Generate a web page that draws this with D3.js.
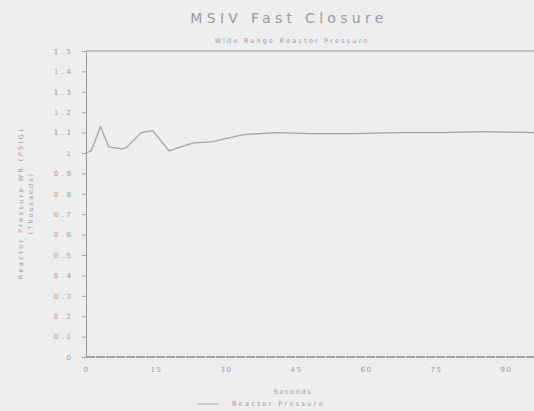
<!DOCTYPE html>
<html>
<head>
<meta charset="utf-8">
<script src="https://cdn.jsdelivr.net/npm/d3@7"></script>
<style>
  body { margin: 0; background: #eeeeee; }
  text { font-family: "DejaVu Sans", sans-serif; fill: #9a9a9a; }
</style>
</head>
<body>
<script>
// seconds / reactor pressure (thousands psig)
const seconds = [0, 1.1, 3.1, 4.9, 7.5, 8.6, 11.8, 14.3, 17.8, 23, 26.8, 33.8, 41, 48, 57, 67, 76, 85, 96]
const pressure = [1.0, 1.01, 1.13, 1.03, 1.02, 1.025, 1.10, 1.11, 1.01, 1.05, 1.055, 1.09, 1.10, 1.095, 1.095, 1.10, 1.10, 1.105, 1.10]
const x_ticks = [0, 15, 30, 45, 60, 75, 90]
const y_ticks = [0, 0.1, 0.2, 0.3, 0.4, 0.5, 0.6, 0.7, 0.8, 0.9, 1, 1.1, 1.2, 1.3, 1.4, 1.5]

const width = 534, height = 411

const svg = d3.select("body")
              .append("svg")
              .attr("width", width)
              .attr("height", height)

svg.append("rect")
   .attr("width", width)
   .attr("height", height)
   .attr("fill", "#eeeeee")

const x = d3.scaleLinear().domain([0, 90]).range([86, 506])
const y = d3.scaleLinear().domain([0, 1.5]).range([357, 51])

// top border
svg.append("line")
   .attr("x1", x(0)).attr("x2", width)
   .attr("y1", y(1.5)).attr("y2", y(1.5))
   .attr("stroke", "#9a9a9a")
   .attr("stroke-width", 1)

const yAxis = svg.append("g")
   .attr("transform", `translate(${x(0)},0)`)
   .call(d3.axisLeft(y).tickValues(y_ticks).tickSize(4).tickPadding(8)
           .tickFormat(d => d === 0 ? "0" : d3.format("")(+d.toFixed(1))))
yAxis.select(".domain").attr("stroke", "#9a9a9a")
yAxis.selectAll(".tick line").attr("stroke", "#a8a8a8")
yAxis.selectAll(".tick text")
     .attr("font-size", "7px")
     .attr("letter-spacing", "3px")
     .attr("fill", "#909090")

const xAxis = svg.append("g")
   .attr("transform", `translate(0,${y(0)})`)
   .call(d3.axisBottom(x).tickValues(x_ticks).tickSize(0).tickPadding(10))
xAxis.select(".domain").remove()
xAxis.selectAll(".tick text")
     .attr("font-size", "7px")
     .attr("letter-spacing", "1.5px")
     .attr("fill", "#909090")

// baseline along zero
svg.append("line")
   .attr("x1", x(0)).attr("x2", width)
   .attr("y1", y(0)).attr("y2", y(0))
   .attr("stroke", "#8a8a8a")
   .attr("stroke-width", 1.6)
   .attr("stroke-dasharray", "9,1")

const line = d3.line()
               .x((d, i) => x(seconds[i]))
               .y(d => y(d))

svg.append("path")
   .datum(pressure)
   .attr("d", line)
   .attr("fill", "none")
   .attr("stroke", "#a4a4a4")
   .attr("stroke-width", 1.3)
   .attr("stroke-linejoin", "round")

svg.append("text")
   .attr("x", 289).attr("y", 23)
   .attr("text-anchor", "middle")
   .attr("font-size", "14px")
   .attr("letter-spacing", "4.3px")
   .text("MSIV Fast Closure")

svg.append("text")
   .attr("x", 292).attr("y", 43)
   .attr("text-anchor", "middle")
   .attr("font-size", "6.5px")
   .attr("letter-spacing", "2.2px")
   .attr("fill", "#8a8a8a")
   .text("Wide Range Reactor Pressure")

svg.append("text")
   .attr("transform", "translate(23,203) rotate(-90)")
   .attr("text-anchor", "middle")
   .attr("font-size", "6.5px")
   .attr("letter-spacing", "2.4px")
   .attr("fill", "#8a8a8a")
   .text("Reactor Pressure WR (PSIG)")

svg.append("text")
   .attr("transform", "translate(33,203) rotate(-90)")
   .attr("text-anchor", "middle")
   .attr("font-size", "6.5px")
   .attr("letter-spacing", "2px")
   .attr("fill", "#8a8a8a")
   .text("(Thousands)")

svg.append("text")
   .attr("x", 293).attr("y", 394)
   .attr("text-anchor", "middle")
   .attr("font-size", "6.5px")
   .attr("letter-spacing", "1.6px")
   .attr("fill", "#8a8a8a")
   .text("Seconds")

svg.append("line")
   .attr("x1", 197).attr("x2", 218)
   .attr("y1", 404).attr("y2", 404)
   .attr("stroke", "#a8a8a8")
   .attr("stroke-width", 1)

svg.append("text")
   .attr("x", 232).attr("y", 406)
   .attr("font-size", "6.5px")
   .attr("letter-spacing", "2.4px")
   .attr("fill", "#8a8a8a")
   .text("Reactor Pressure")
</script>
</body>
</html>
